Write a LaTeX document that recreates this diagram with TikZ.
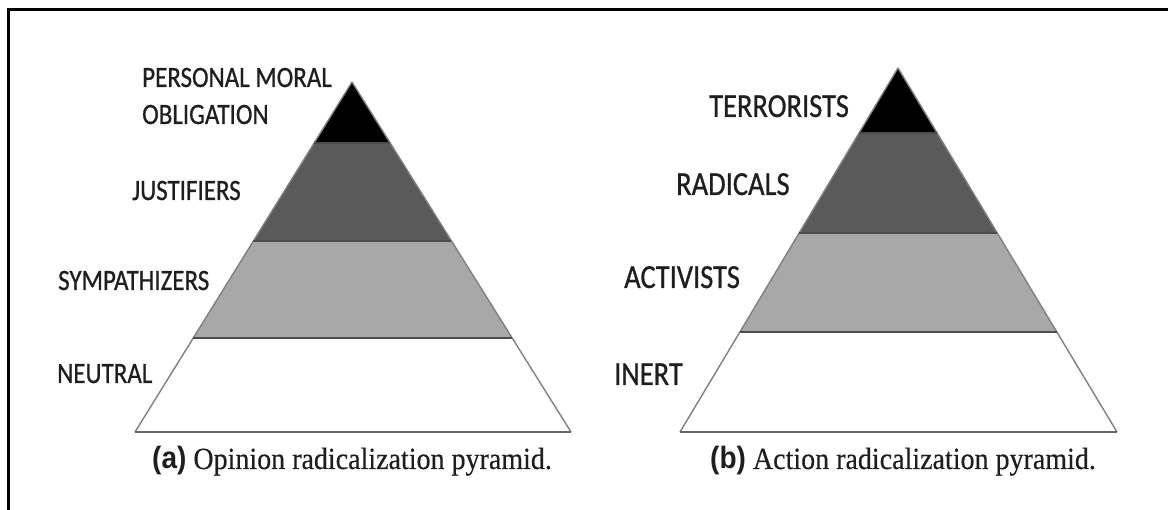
\documentclass[tikz,border=0pt]{standalone}
\usepackage{fontspec}
\setmainfont{Liberation Serif}
\newfontfamily\capserif[FakeBold=0.4]{Liberation Serif}
\newfontfamily\labfont[FakeBold=0.8]{Carlito}
\newfontfamily\capsans{Liberation Sans}
\usetikzlibrary{calc}
\definecolor{bandblack}{HTML}{000000}
\definecolor{banddark}{HTML}{5A5A5A}
\definecolor{bandlight}{HTML}{A8A8A8}
\definecolor{edgegray}{HTML}{808080}
\definecolor{labelink}{HTML}{1E1E1E}
\tikzset{
  lab/.style={anchor=base west, inner sep=0pt, text=labelink, font=\labfont\fontsize{#1}{#1}\selectfont},
  captext/.style={anchor=base west, inner sep=0pt, text=labelink, font=\capserif\fontsize{28}{30}\selectfont},
  bandedge/.style={draw=edgegray, line width=1.4pt, line join=round},
  bandsep/.style={draw=black!70, line width=1.6pt},
  baseline stroke/.style={draw=black!60, line width=2.4pt}
}
\newcommand{\vs}[1]{\scalebox{1}[1.18]{#1}}
\begin{document}
\begin{tikzpicture}[x=1pt,y=-1pt]
\useasboundingbox (0,0) rectangle (1168,510);
\fill[white] (0,0) rectangle (1168,510);
\draw[line width=3pt] (8,520) -- (8,10) -- (1175,10);

% ---- left pyramid
\coordinate (LA) at (352,82);
\coordinate (LL) at (135,432);
\coordinate (LR) at (571,432);
\coordinate (L1l) at ($(LA)!0.174!(LL)$); \coordinate (L1r) at ($(LA)!0.174!(LR)$);
\coordinate (L2l) at ($(LA)!0.454!(LL)$); \coordinate (L2r) at ($(LA)!0.454!(LR)$);
\coordinate (L3l) at ($(LA)!0.731!(LL)$); \coordinate (L3r) at ($(LA)!0.731!(LR)$);
\fill[white] (L3l) -- (L3r) -- (LR) -- (LL) -- cycle;
\fill[bandlight] (L2l) -- (L2r) -- (L3r) -- (L3l) -- cycle;
\fill[banddark] (L1l) -- (L1r) -- (L2r) -- (L2l) -- cycle;
\fill[bandblack] (LA) -- (L1r) -- (L1l) -- cycle;
\draw[bandedge] (LL) -- (LA) -- (LR);
\draw[bandsep] (L1l) -- (L1r);
\draw[bandsep] (L2l) -- (L2r);
\draw[bandsep] (L3l) -- (L3r);
\draw[baseline stroke] (LL) -- (LR);

% ---- right pyramid
\coordinate (RA) at (898,68);
\coordinate (RL) at (680,432);
\coordinate (RR) at (1117,432);
\coordinate (R1l) at ($(RA)!0.179!(RL)$); \coordinate (R1r) at ($(RA)!0.179!(RR)$);
\coordinate (R2l) at ($(RA)!0.453!(RL)$); \coordinate (R2r) at ($(RA)!0.453!(RR)$);
\coordinate (R3l) at ($(RA)!0.725!(RL)$); \coordinate (R3r) at ($(RA)!0.725!(RR)$);
\fill[white] (R3l) -- (R3r) -- (RR) -- (RL) -- cycle;
\fill[bandlight] (R2l) -- (R2r) -- (R3r) -- (R3l) -- cycle;
\fill[banddark] (R1l) -- (R1r) -- (R2r) -- (R2l) -- cycle;
\fill[bandblack] (RA) -- (R1r) -- (R1l) -- cycle;
\draw[bandedge] (RL) -- (RA) -- (RR);
\draw[bandsep] (R1l) -- (R1r);
\draw[bandsep] (R2l) -- (R2r);
\draw[bandsep] (R3l) -- (R3r);
\draw[baseline stroke] (RL) -- (RR);

% ---- labels left
\node[lab=25] (pmo1) at (142,87) {\vs{PERSONAL MORAL}};
\node[lab=25] (pmo2) at (142,124) {\vs{OBLIGATION}};
\node[lab=25] (just) at (132,200) {\vs{JUSTIFIERS}};
\node[lab=25] (symp) at (58,290) {\vs{SYMPATHIZERS}};
\node[lab=25] (neut) at (57,383) {\vs{NEUTRAL}};

% ---- labels right
\node[lab=28.5] (terr) at (709,117) {\vs{TERRORISTS}};
\node[lab=28.5] (radi) at (676,195) {\vs{RADICALS}};
\node[lab=28.5] (acti) at (624,288) {\vs{ACTIVISTS}};
\node[lab=28.5] (iner) at (614,385) {\vs{INERT}};

% ---- captions
\node[captext] (capa) at (152,469) {\scalebox{1}[1.1]{{\capsans\bfseries (a)} Opinion radicalization pyramid.}};
\node[captext] (capb) at (710,469) {\scalebox{1}[1.1]{{\capsans\bfseries (b)} Action radicalization pyramid.}};
\end{tikzpicture}
\end{document}
